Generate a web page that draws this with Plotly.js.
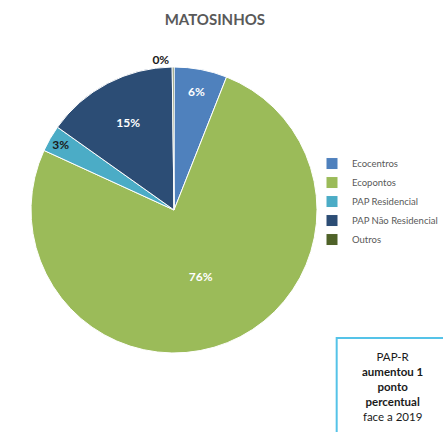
<!DOCTYPE html>
<html>
<head>
<meta charset="utf-8">
<script src="https://cdn.plot.ly/plotly-3.0.1.min.js"></script>
<style>html,body{margin:0;padding:0;background:#fff;}#chart{width:443px;height:432px;}</style>
</head>
<body>
<div id="chart"></div>
<script>
const categories = ["Ecocentros", "Ecopontos", "PAP Residencial", "PAP Não Residencial", "Outros"];
const values = [6, 76, 3, 15, 0.2];
const colors = ["#4f81bd", "#9bbb59", "#4bacc6", "#2c4d75", "#4f6228"];
const textColors = ["#ffffff", "#ffffff", "#1a1a1a", "#ffffff", "#1a1a1a"];
const textPositions = ["inside", "inside", "inside", "inside", "outside"];

const trace = {
  type: "pie",
  labels: categories,
  values: values,
  sort: false,
  direction: "clockwise",
  rotation: 0,
  marker: { colors: colors, line: { color: "#ffffff", width: 1 } },
  texttemplate: "%{percent:.0%}",
  textposition: textPositions,
  insidetextorientation: "horizontal",
  textfont: { family: "Lato, 'Open Sans', sans-serif", size: 12, color: textColors, weight: "bold" },
  outsidetextfont: { family: "Lato, 'Open Sans', sans-serif", size: 12, color: "#1a1a1a", weight: "bold" },
  hoverinfo: "label+percent",
  domain: { x: [0.07, 0.7156], y: [0.1829, 0.8449] }
};

const layout = {
  width: 443,
  height: 432,
  margin: { l: 0, r: 0, t: 0, b: 0 },
  paper_bgcolor: "#ffffff",
  font: { family: "Lato, 'Open Sans', sans-serif" },
  title: {
    text: "<b>MATOSINHOS</b>",
    x: 0.485, xanchor: "center",
    y: 0.955, yanchor: "middle",
    font: { family: "Lato, 'Open Sans', sans-serif", size: 15, color: "#595959" }
  },
  showlegend: true,
  legend: {
    x: 1.0, xanchor: "right",
    y: 0.655, yanchor: "top",
    font: { size: 9.5, color: "#595959" },
    itemwidth: 30,
    bgcolor: "rgba(0,0,0,0)"
  },
  shapes: [{
    type: "rect", xref: "paper", yref: "paper",
    x0: 0.760, x1: 1.05, y0: -0.05, y1: 0.2175,
    line: { color: "#55c3e8", width: 2 },
    fillcolor: "rgba(0,0,0,0)"
  }],
  annotations: [{
    xref: "paper", yref: "paper",
    x: 0.885, y: 0.105, xanchor: "center", yanchor: "middle",
    showarrow: false,
    align: "center",
    text: "PAP-R<br><b>aumentou 1</b><br><b>ponto</b><br><b>percentual</b><br>face a 2019",
    font: { family: "Lato, 'Open Sans', sans-serif", size: 11.5, color: "#1a1a1a" }
  }]
};

Plotly.newPlot("chart", [trace], layout, { displayModeBar: false, staticPlot: true });
</script>
</body>
</html>
